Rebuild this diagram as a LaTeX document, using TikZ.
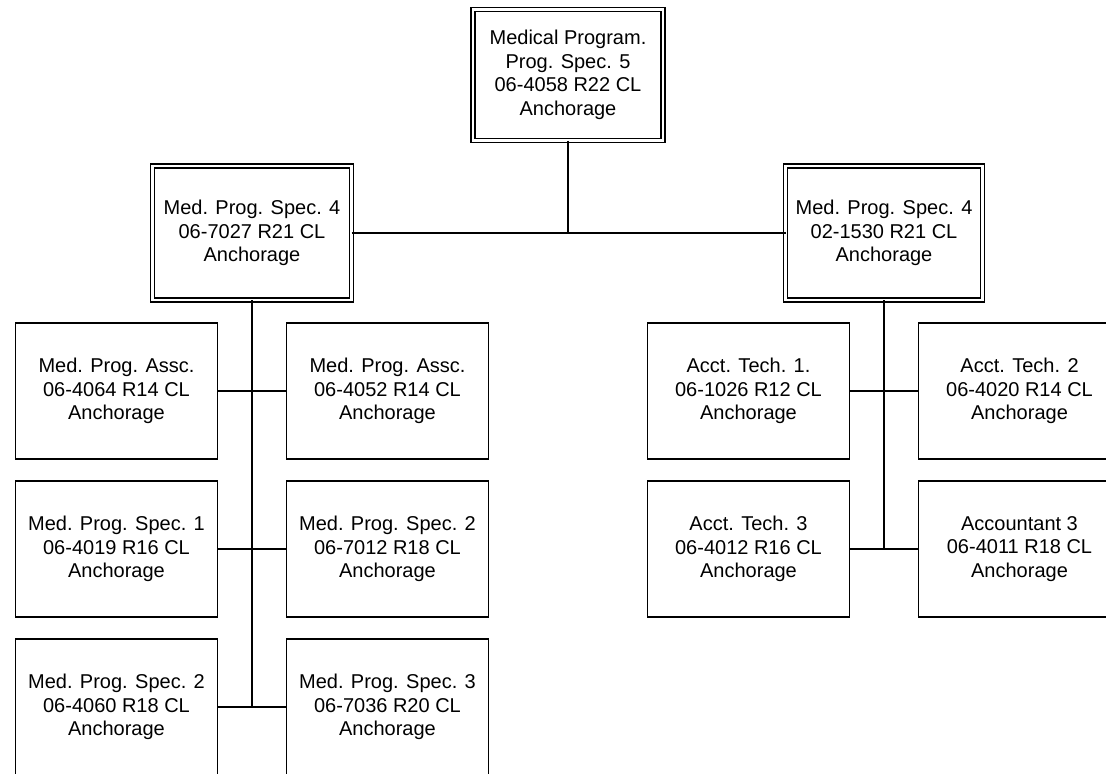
\documentclass[tikz,border=0pt]{standalone}
\usepackage{fontspec}
\setmainfont{Liberation Sans}
\usetikzlibrary{positioning}

\begin{document}
\begin{tikzpicture}[
    on grid,
    node distance=79pt and 67.75pt,
    box/.style={rectangle, draw, line width=0.9pt, minimum width=101pt, minimum height=68pt, align=center, inner sep=0pt, outer sep=0pt, font=\fontsize{10pt}{11.75pt}\selectfont},
    headbox/.style={box, double, line width=0.7pt, double distance=1.3pt},
    link/.style={line width=0.9pt}
]
\useasboundingbox (0,0) rectangle (553pt,-386.5pt);

% Top: program head
\node[headbox, minimum width=95pt, minimum height=65.5pt] (head) at (284pt,-37.5pt) {Medical Program.\\Prog. Spec. 5\\06-4058 R22 CL\\Anchorage};

% Second level: two Med. Prog. Spec. 4
\node[headbox, minimum width=99.5pt, minimum height=67pt, below left=79pt and 158pt of head] (medl) {Med. Prog. Spec. 4\\06-7027 R21 CL\\Anchorage};
\node[headbox, minimum width=98.5pt, minimum height=67pt, below right=79pt and 158pt of head] (medr) {Med. Prog. Spec. 4\\02-1530 R21 CL\\Anchorage};

% Left branch
\node[box, below left=of medl] (assc1) {Med. Prog. Assc.\\06-4064 R14 CL\\Anchorage};
\node[box, below right=of medl] (assc2) {Med. Prog. Assc.\\06-4052 R14 CL\\Anchorage};
\node[box, below=of assc1] (spec1) {Med. Prog. Spec. 1\\06-4019 R16 CL\\Anchorage};
\node[box, below=of assc2] (spec2a) {Med. Prog. Spec. 2\\06-7012 R18 CL\\Anchorage};
\node[box, below=of spec1] (spec2b) {Med. Prog. Spec. 2\\06-4060 R18 CL\\Anchorage};
\node[box, below=of spec2a] (spec3) {Med. Prog. Spec. 3\\06-7036 R20 CL\\Anchorage};

% Right branch
\node[box, below left=of medr] (tech1) {Acct. Tech. 1.\\06-1026 R12 CL\\Anchorage};
\node[box, below right=of medr] (tech2) {Acct. Tech. 2\\06-4020 R14 CL\\Anchorage};
\node[box, below=of tech1] (tech3) {Acct. Tech. 3\\06-4012 R16 CL\\Anchorage};
\node[box, below=of tech2] (acct3) {Accountant 3\\06-4011 R18 CL\\Anchorage};

% Connectors top
\draw[link] (medl) -- (medr);
\draw[link] (head) -- (head |- medl);

% Trunks
\draw[link] (medl) -- (medl |- spec2b);
\draw[link] (medr) -- (medr |- tech3);

% Branches
\draw[link] (assc1) -- (assc2);
\draw[link] (spec1) -- (spec2a);
\draw[link] (spec2b) -- (spec3);
\draw[link] (tech1) -- (tech2);
\draw[link] (tech3) -- (acct3);

\end{tikzpicture}
\end{document}
